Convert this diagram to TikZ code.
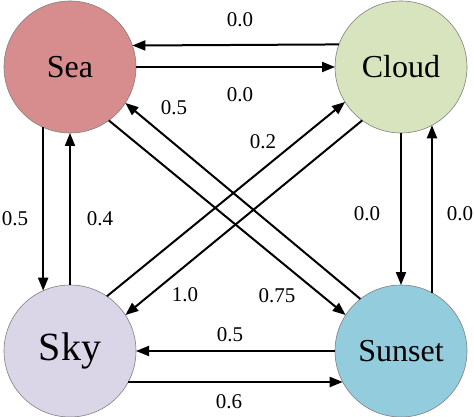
\documentclass[tikz,border=0pt]{standalone}
\usepackage{fontspec}
\setmainfont{Liberation Serif}
\usetikzlibrary{arrows.meta}
\definecolor{seac}{HTML}{D78D8D}
\definecolor{cloudc}{HTML}{D7E4BD}
\definecolor{skyc}{HTML}{DAD5E7}
\definecolor{sunsetc}{HTML}{93CCDC}
\definecolor{rimc}{HTML}{7F7F7F}
\begin{document}
\begin{tikzpicture}[x=1pt,y=-1pt,
  state/.style={circle, draw=rimc, line width=0.6pt, minimum size=132pt, inner sep=0pt, outer sep=0pt, font=\fontsize{32}{36}\selectfont},
  edge/.style={line width=2pt, -{Triangle[length=13pt,width=10pt]}},
  lbl/.style={font=\fontsize{21}{23}\selectfont, inner sep=0pt}]
\useasboundingbox (0,0) rectangle (474,417);
\node[state, fill=seac] (sea) at (70,67) {Sea};
\node[state, fill=cloudc] (cloud) at (401,67) {Cloud};
\node[state, fill=skyc, font=\fontsize{40}{44}\selectfont] (sky) at (70,351) {Sky};
\node[state, fill=sunsetc] (sunset) at (401,351) {Sunset};
% top
\draw[edge] (cloud.160.5) -- (sea.19.5);
\draw[edge] (sea.east) -- (cloud.west);
% left
\draw[edge] (sea.-114) -- (sky.114);
\draw[edge] (sky.north) -- (sea.south);
% right
\draw[edge] (cloud.south) -- (sunset.north);
\draw[edge] (sunset.62) -- (cloud.-62);
% bottom
\draw[edge] (sunset.west) -- (sky.east);
\draw[edge] (sky.-28) -- (sunset.-152);
% diagonals
\draw[edge] (sunset.128) -- (sea.-33);
\draw[edge] (sea.-54) -- (sunset.147);
\draw[edge] (sky.56) -- (cloud.-148);
\draw[edge] (cloud.-126) -- (sky.33);
% labels
\node[lbl] (l1) at (240,20) {0.0};
\node[lbl] (l2) at (240,95) {0.0};
\node[lbl] (l3) at (15,219) {0.5};
\node[lbl] (l4) at (100,219) {0.4};
\node[lbl] (l5) at (367,214) {0.0};
\node[lbl] (l6) at (460,214) {0.0};
\node[lbl] (l7) at (230,335) {0.5};
\node[lbl] (l8) at (229,402) {0.6};
\node[lbl] (l9) at (174,108) {0.5};
\node[lbl] (l10) at (263,142) {0.2};
\node[lbl] (l11) at (185,295) {1.0};
\node[lbl] (l12) at (277,296) {0.75};
\end{tikzpicture}
\end{document}
